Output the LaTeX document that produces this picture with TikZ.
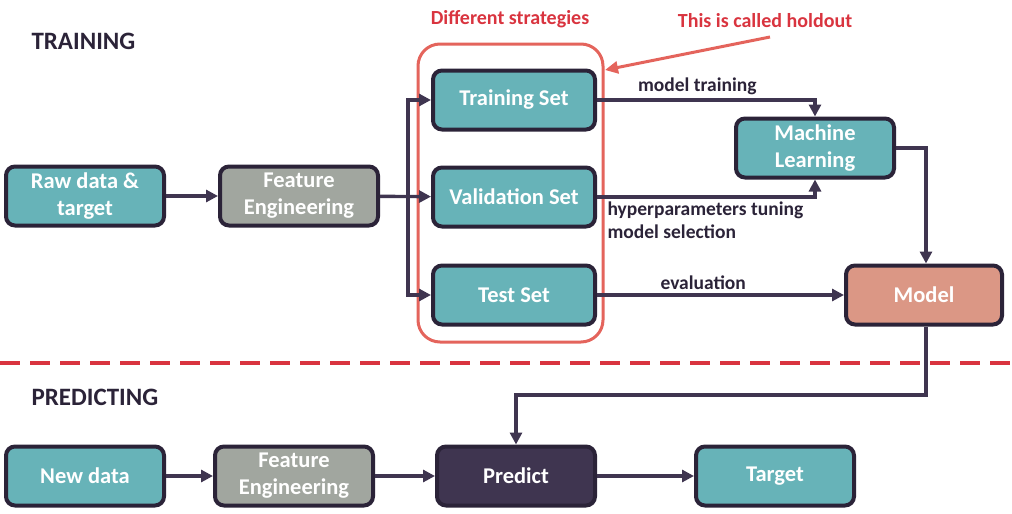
\documentclass[tikz,border=0pt]{standalone}
\usepackage{fontspec}
\setmainfont{Carlito}
\usetikzlibrary{arrows.meta}
\definecolor{teal1}{HTML}{67B3B8}
\definecolor{grey1}{HTML}{A1A69F}
\definecolor{salmon1}{HTML}{DB9785}
\definecolor{purple1}{HTML}{3F3550}
\definecolor{edge1}{HTML}{2B2338}
\definecolor{red1}{HTML}{D9343F}
\definecolor{red2}{HTML}{E4645C}
\tikzset{
    stepbox/.style={draw=edge1, line width=4pt, rounded corners=9pt,
        minimum width=158pt, minimum height=59pt, align=center,
        text=white, font=\fontsize{22.5}{27}\selectfont\bfseries},
    flow/.style={draw=purple1, line width=3.4pt, -{Triangle[length=12pt,width=12pt]}},
    lbl/.style={text=edge1, font=\fontsize{19.5}{23}\selectfont\bfseries},
    note/.style={text=red1, font=\fontsize{20}{22}\selectfont\bfseries},
    title/.style={text=edge1, font=\fontsize{25}{28}\selectfont\bfseries}
}

\begin{document}
\begin{tikzpicture}[x=1pt, y=-1pt]
    \useasboundingbox (0,0) rectangle (1012,514);

    \node[title, anchor=west] (train) at (28,41) {TRAINING};
    \node[title, anchor=west] (pred) at (28,397) {PREDICTING};

    \node[stepbox, fill=teal1] (raw) at (85,196) {Raw data \&\\target};
    \node[stepbox, fill=grey1] (fe1) at (299,196) {Feature\\Engineering};
    \node[stepbox, fill=teal1, minimum width=162pt] (tset) at (514,100) {Training Set};
    \node[stepbox, fill=teal1, minimum width=162pt] (vset) at (514,197) {Validation Set};
    \node[stepbox, fill=teal1, minimum width=162pt] (test) at (514,295) {Test Set};
    \node[stepbox, fill=teal1] (ml) at (815,148) {Machine\\Learning};
    \node[stepbox, fill=salmon1, minimum width=156pt] (model) at (924,295) {Model};

    \node[stepbox, fill=teal1] (new) at (85,476) {New data};
    \node[stepbox, fill=grey1] (fe2) at (294,476) {Feature\\Engineering};
    \node[stepbox, fill=purple1] (predict) at (516,476) {Predict};
    \node[stepbox, fill=teal1] (target) at (775,476) {Target};

    % holdout frame
    \draw[red2, line width=3pt, rounded corners=22pt] (418,44) rectangle (603,342);
    \node[note] (diff) at (510,19) {Different strategies};
    \node[note] (hold) at (765,21) {This is called holdout};
    \coordinate (holdtip) at (605,70);
    \draw[red2, line width=3pt, -{Triangle[length=13pt,width=12pt]}] (770,37) -- (holdtip);

    \draw[red1, line width=3.4pt, dash pattern=on 20pt off 10pt] (0,363) -- (1012,363);

    % training flow
    \coordinate (split) at (408,197);
    \draw[flow] (raw) -- (fe1);
    \draw[flow] (fe1) -- (vset);
    \draw[flow] (split) |- (tset);
    \draw[flow] (split) |- (test);
    \draw[flow] (tset.east) -| (ml.north) node[lbl, pos=0.23, above] {model training};
    \draw[flow] (vset.east) -| (ml.south);
    \node[lbl, anchor=north west, align=left] (hyper) at (604,198)
        {hyperparameters tuning\\model selection};
    \draw[flow] (test) -- (model) node[lbl, pos=0.43, above] {evaluation};
    \draw[flow] (ml.east) -| ([xshift=2pt]model.north);

    % predicting flow
    \draw[flow] ([xshift=2pt]model.south) |- (516,395) -- (predict.north);
    \draw[flow] (new) -- (fe2);
    \draw[flow] (fe2) -- (predict);
    \draw[flow] (predict) -- (target);
\end{tikzpicture}
\end{document}
